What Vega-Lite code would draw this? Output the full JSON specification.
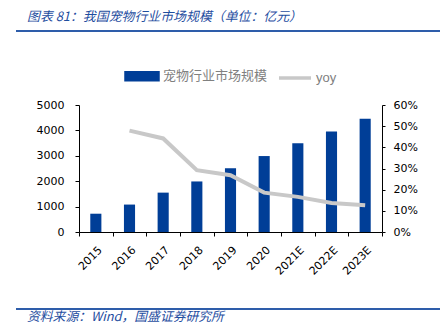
{
  "$schema": "https://vega.github.io/schema/vega-lite/v6.json",
  "autosize": {"type": "none"},
  "padding": {"left": 79, "right": 66, "top": 105, "bottom": 101},
  "width": 303,
  "height": 127,
  "config": {
    "view": {"stroke": null},
    "font": "DejaVu Sans"
  },
  "data": {
    "values": [
      {"year": "2015", "size": 720, "yoy": null},
      {"year": "2016", "size": 1080, "yoy": 0.479},
      {"year": "2017", "size": 1550, "yoy": 0.442},
      {"year": "2018", "size": 1990, "yoy": 0.292},
      {"year": "2019", "size": 2510, "yoy": 0.268},
      {"year": "2020", "size": 2990, "yoy": 0.186},
      {"year": "2021E", "size": 3490, "yoy": 0.166},
      {"year": "2022E", "size": 3960, "yoy": 0.137},
      {"year": "2023E", "size": 4460, "yoy": 0.126}
    ]
  },
  "layer": [
    {
      "mark": {"type": "bar", "width": {"band": 0.33}},
      "encoding": {
        "x": {
          "field": "year", "type": "nominal", "sort": null,
          "scale": {"type": "band", "paddingInner": 0, "paddingOuter": 0},
          "axis": {
            "title": null, "labelAngle": -45, "tickBand": "extent", "tickSize": 4,
            "domainColor": "#000", "tickColor": "#000", "labelColor": "#000",
            "labelFontSize": 11, "labelFont": "DejaVu Sans", "labelPadding": 8
          }
        },
        "y": {
          "field": "size", "type": "quantitative",
          "scale": {"domain": [0, 5000]},
          "axis": {
            "orient": "left", "title": null, "grid": false, "format": "d",
            "values": [0, 1000, 2000, 3000, 4000, 5000],
            "domainColor": "#000", "tickColor": "#000", "labelColor": "#000",
            "tickSize": 4, "labelPadding": 11, "labelFontSize": 11, "labelFont": "DejaVu Sans"
          }
        },
        "color": {
          "datum": "宠物行业市场规模", "type": "nominal",
          "scale": {"domain": ["宠物行业市场规模", "yoy"], "range": ["#003e97", "#c8c8c8"]},
          "legend": {
            "title": null, "orient": "none", "direction": "horizontal",
            "legendX": 45, "legendY": -47, "padding": 0,
            "symbolSize": 1024, "symbolStrokeWidth": 3.5, "labelOffset": 3, "columnPadding": 4,
            "labelColor": "#808080", "labelFont": "Noto Sans CJK SC", "labelFontSize": 13,
            "encode": {
              "symbols": {
                "update": {
                  "shape": {"signal": "datum.value === 'yoy' ? 'M-1,0H1' : 'M-1,-0.22H1V0.22H-1Z'"},
                  "fill": {"signal": "datum.value === 'yoy' ? 'transparent' : '#003e97'"},
                  "stroke": {"signal": "datum.value === 'yoy' ? '#c8c8c8' : 'transparent'"},
                  "opacity": {"value": 1}
                }
              },
              "labels": {
                "update": {
                  "font": {"signal": "datum.value === 'yoy' ? 'Liberation Sans' : 'Noto Sans CJK SC'"}
                }
              }
            }
          }
        }
      }
    },
    {
      "transform": [{"filter": "isValid(datum.yoy)"}],
      "mark": {"type": "line", "strokeWidth": 4},
      "encoding": {
        "x": {
          "field": "year", "type": "nominal", "sort": null,
          "scale": {"type": "point", "padding": 0.5, "domain": ["2015", "2016", "2017", "2018", "2019", "2020", "2021E", "2022E", "2023E"]},
          "axis": null
        },
        "y": {
          "field": "yoy", "type": "quantitative",
          "scale": {"domain": [0, 0.6]},
          "axis": {
            "orient": "right", "title": null, "grid": false, "format": ".0%",
            "values": [0, 0.1, 0.2, 0.3, 0.4, 0.5, 0.6],
            "domainColor": "#000", "tickColor": "#000", "labelColor": "#000",
            "tickSize": 3, "labelPadding": 8, "labelFontSize": 11, "labelFont": "DejaVu Sans"
          }
        },
        "color": {"datum": "yoy", "type": "nominal"}
      }
    },
    {
      "data": {"values": [{}]},
      "mark": {"type": "rule", "color": "#2e5daa", "strokeWidth": 2},
      "encoding": {
        "x": {"datum": -0.2079, "type": "quantitative", "scale": {"domain": [0, 1]}, "axis": null},
        "x2": {"datum": 1.1914},
        "y": {"datum": 1.5827, "type": "quantitative", "scale": {"domain": [0, 1]}, "axis": null}
      }
    },
    {
      "data": {"values": [{}]},
      "mark": {"type": "rule", "color": "#2e5daa", "strokeWidth": 2},
      "encoding": {
        "x": {"datum": -0.2079, "type": "quantitative", "scale": {"domain": [0, 1]}, "axis": null},
        "x2": {"datum": 1.1914},
        "y": {"datum": -0.6063, "type": "quantitative", "scale": {"domain": [0, 1]}, "axis": null}
      }
    },
    {
      "data": {"values": [{}]},
      "mark": {"type": "text", "align": "left", "baseline": "middle", "font": "Noto Sans CJK SC", "fontSize": 12.9, "fontStyle": "italic", "color": "#1f4e9f"},
      "encoding": {
        "x": {"datum": -0.1716, "type": "quantitative", "scale": {"domain": [0, 1]}, "axis": null},
        "y": {"datum": 1.6929, "type": "quantitative", "scale": {"domain": [0, 1]}, "axis": null},
        "text": {"value": "图表 81：我国宠物行业市场规模（单位：亿元）"}
      }
    },
    {
      "data": {"values": [{}]},
      "mark": {"type": "text", "align": "left", "baseline": "middle", "font": "Noto Sans CJK SC", "fontSize": 12.8, "fontStyle": "italic", "color": "#1f4e9f"},
      "encoding": {
        "x": {"datum": -0.1716, "type": "quantitative", "scale": {"domain": [0, 1]}, "axis": null},
        "y": {"datum": -0.6693, "type": "quantitative", "scale": {"domain": [0, 1]}, "axis": null},
        "text": {"value": "资料来源：Wind，国盛证券研究所"}
      }
    }
  ],
  "resolve": {"scale": {"x": "independent", "y": "independent"}}
}
